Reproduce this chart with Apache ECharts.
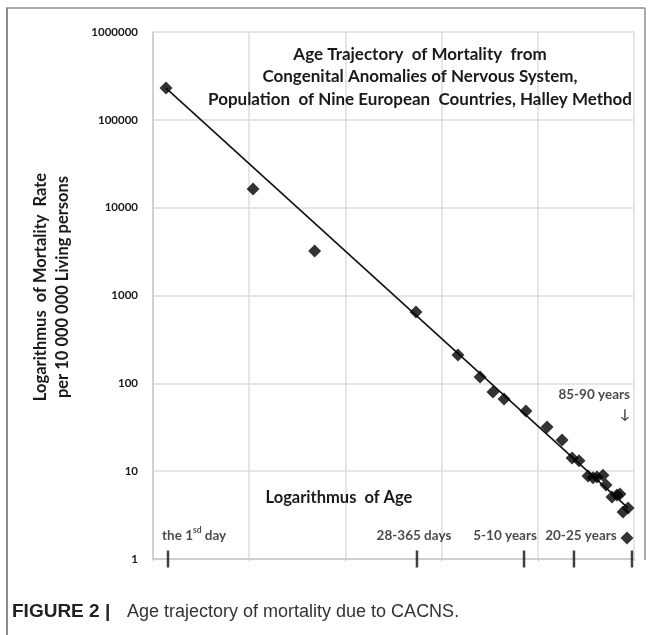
<!DOCTYPE html>
<html>
<head>
<meta charset="utf-8">
<script src="https://cdn.jsdelivr.net/npm/echarts@6/dist/echarts.min.js"></script>
<style>
html, body { margin: 0; padding: 0; background: #fff; }
#main { width: 655px; height: 635px; }
</style>
</head>
<body>
<div id="main"></div>
<script>
// position along the (unlabelled) log-of-age axis, grid units 0..5
var ageX = [0.135, 1.04, 1.68, 2.734, 3.17, 3.40, 3.534, 3.649, 3.877, 4.096, 4.252,
    4.356, 4.428, 4.522, 4.574, 4.615, 4.678, 4.709, 4.771, 4.823, 4.854, 4.886, 4.938, 4.927];
// mortality per 10 000 000 living persons
var mortality = [230000, 16300, 3210, 649, 210, 118, 79.6, 66.3, 48.4, 31.8, 22.6,
    14.1, 13.1, 8.8, 8.4, 8.6, 9.0, 6.95, 5.08, 5.35, 5.5, 3.43, 3.8, 1.73];

// fitted line (start / end)
var trendX = [0.135, 4.94];
var trendY = [230000, 3.8];

// age group marks on the x axis
var ageMarkX = [0.156, 2.744, 3.857, 4.376, 4.979];
var ageMarkText = ['the 1{sup|sd} day', '28-365 days', '5-10 years', '20-25 years', '85-90 years\n↓'];

var FONT = 'Lato';
var INK = '#1a1a1a';

function pairs(xs, ys) {
    var out = [];
    for (var i = 0; i < xs.length; i++) {
        out.push([xs[i], ys[i]]);
    }
    return out;
}

// label placement for each age mark
var markLabel = [
    { align: 'left', offset: [-6, 0] },
    { align: 'center', offset: [-3, 0] },
    { align: 'center', offset: [-19, 0] },
    { align: 'center', offset: [7, 0] },
    { align: 'right', offset: [-2, -121] }
];
var markData = ageMarkX.map(function (x, i) {
    return {
        value: [x, 1],
        label: {
            show: true,
            position: 'top',
            distance: 5,
            formatter: ageMarkText[i],
            align: markLabel[i].align,
            offset: markLabel[i].offset,
            color: INK,
            fontFamily: FONT,
            fontWeight: 'bold',
            fontSize: 13.5,
            lineHeight: 20,
            rich: {
                sup: { fontSize: 8.5, fontWeight: 'bold', fontFamily: FONT, verticalAlign: 'top', color: INK }
            }
        }
    };
});

var chart = echarts.init(document.getElementById('main'));
chart.setOption({
    animation: false,
    backgroundColor: '#fff',
    grid: { left: 153, right: 21, top: 32, bottom: 76 },
    xAxis: {
        type: 'value',
        min: 0,
        max: 5,
        interval: 1,
        axisLabel: { show: false },
        axisTick: { show: true, length: 2, lineStyle: { color: '#d8b8b8' } },
        axisLine: { lineStyle: { color: '#c8c8c8', width: 1.5 } },
        splitLine: { lineStyle: { color: '#dcdcdc', width: 1.5 } }
    },
    yAxis: {
        type: 'log',
        logBase: 10,
        min: 1,
        max: 1000000,
        axisLine: { show: true, lineStyle: { color: '#c8c8c8', width: 1.5 } },
        axisTick: { show: false },
        splitLine: { lineStyle: { color: '#dcdcdc', width: 1.5 } },
        axisLabel: {
            margin: 15,
            fontFamily: FONT,
            fontWeight: 'bold',
            fontSize: 11.5,
            color: INK,
            formatter: function (v) { return String(Math.round(v)); }
        }
    },
    graphic: [
        { type: 'line', shape: { x1: 7, y1: 8, x2: 7, y2: 635 }, style: { stroke: '#8c8c8c', lineWidth: 2 } },
        { type: 'line', shape: { x1: 6, y1: 8, x2: 645, y2: 8 }, style: { stroke: '#8c8c8c', lineWidth: 1.5 } },
        { type: 'line', shape: { x1: 645, y1: 8, x2: 645, y2: 560 }, style: { stroke: '#8c8c8c', lineWidth: 1.5 } },
        {
            type: 'text', x: 52, y: 287, rotation: Math.PI / 2,
            style: {
                text: 'Logarithmus  of Mortality  Rate\nper 10 000 000 Living persons',
                align: 'center', verticalAlign: 'middle',
                fontFamily: FONT, fontWeight: 'bold', fontSize: 16.5, lineHeight: 22, fill: INK
            }
        },
        {
            type: 'text', x: 420, y: 43, z: 10,
            style: {
                text: 'Age Trajectory  of Mortality  from\nCongenital Anomalies of Nervous System,\nPopulation  of Nine European  Countries, Halley Method',
                align: 'center', verticalAlign: 'top',
                fontFamily: FONT, fontWeight: 'bold', fontSize: 17, lineHeight: 22.5, fill: INK
            }
        },
        {
            type: 'text', x: 339, y: 498, z: 10,
            style: {
                text: 'Logarithmus  of Age',
                align: 'center', verticalAlign: 'middle',
                fontFamily: FONT, fontWeight: 'bold', fontSize: 16.5, fill: INK
            }
        },
        {
            type: 'text', x: 12, y: 612,
            style: {
                text: 'FIGURE 2 |',
                verticalAlign: 'middle',
                fontFamily: 'Liberation Sans', fontWeight: 'bold', fontSize: 19, fill: '#222'
            }
        },
        {
            type: 'text', x: 127, y: 612,
            style: {
                text: 'Age trajectory of mortality due to CACNS.',
                verticalAlign: 'middle',
                fontFamily: 'Liberation Sans', fontSize: 18, fill: '#333'
            }
        }
    ],
    series: [
        {
            name: 'trend',
            type: 'line',
            data: pairs(trendX, trendY),
            symbol: 'none',
            lineStyle: { color: '#111', width: 1.6 },
            z: 2
        },
        {
            name: 'mortality',
            type: 'scatter',
            data: pairs(ageX, mortality),
            symbol: 'diamond',
            symbolSize: 13,
            itemStyle: { color: '#000' },
            z: 3
        },
        {
            name: 'age marks',
            type: 'scatter',
            data: markData,
            symbol: 'rect',
            symbolSize: [2.5, 17],
            itemStyle: { color: '#111' },
            clip: false,
            silent: true,
            z: 4
        }
    ]
});
</script>
</body>
</html>
